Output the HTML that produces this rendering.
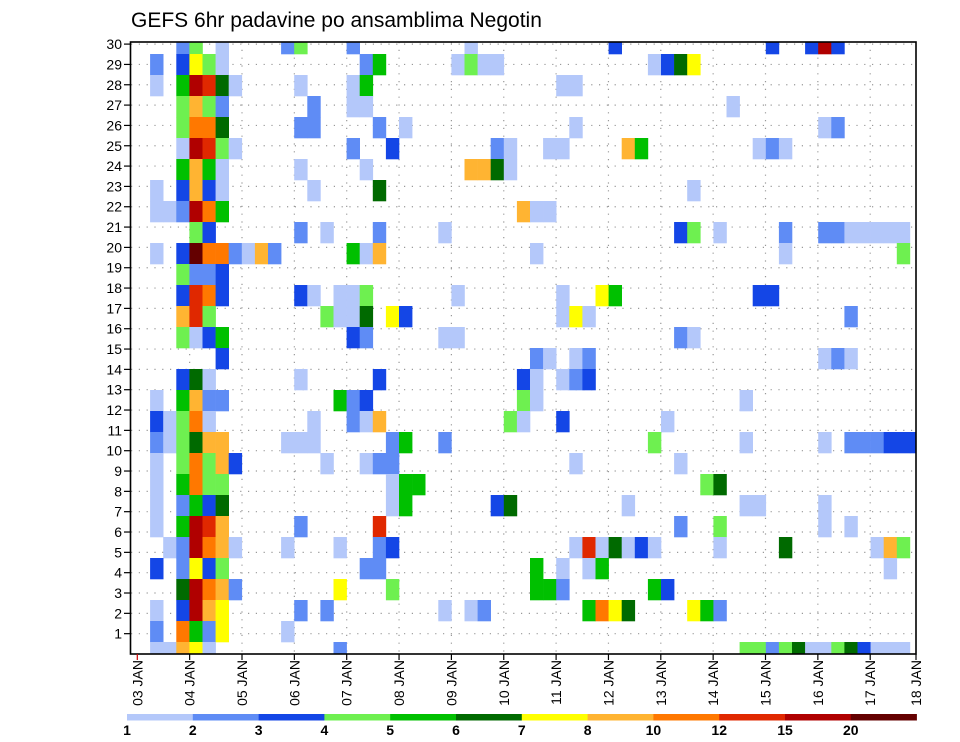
<!DOCTYPE html>
<html><head><meta charset="utf-8">
<style>
html,body{margin:0;padding:0;background:#fff;}
svg{display:block;font-family:"Liberation Sans",sans-serif;}
</style></head>
<body>
<svg id="chart" width="960" height="742" viewBox="0 0 960 742" xmlns="http://www.w3.org/2000/svg">
  <text x="131" y="27" font-size="21" fill="#000">GEFS 6hr padavine po ansamblima Negotin</text>
  <defs><clipPath id="plotclip"><rect x="130.5" y="42" width="785.5" height="612"/></clipPath></defs>
  <g id="grid"></g>
  <g id="cells" clip-path="url(#plotclip)"></g>
  <rect x="130.5" y="42" width="785.5" height="612" fill="none" stroke="#000" stroke-width="1.6"/>
  <g id="yaxis"></g>
  <g id="xaxis"></g>
  <g id="legend"></g>
</svg>
<script>
// ---- data ----
// one string per member row (top row = member 29 ... bottom = member 0); "col:class"
const memberRows = [
"3:2,4:4,6:1,11:2,12:4,16:2,25:1,36:3,48:3,51:3,52:b,53:3",
"1:2,3:3,4:7,5:4,6:1,17:2,18:5,24:1,25:4,26:1,27:1,39:1,40:3,41:6,42:7",
"1:1,3:5,4:b,5:a,6:6,7:1,12:1,16:1,17:5,32:1,33:1",
"3:4,4:8,5:4,6:2,13:2,16:1,17:1,45:1",
"3:4,4:9,5:9,6:6,12:2,13:2,18:2,20:1,33:1,52:1,53:2",
"3:1,4:b,5:a,6:4,7:1,16:2,19:3,27:2,28:1,31:1,32:1,37:8,38:5,47:1,48:2,49:1",
"3:5,4:8,5:5,6:1,12:1,17:1,25:8,26:8,27:6,28:1",
"1:1,3:3,4:8,5:3,6:1,13:1,18:6,42:1",
"1:1,2:1,3:2,4:b,5:9,6:5,29:8,30:1,31:1",
"4:4,5:3,12:2,14:1,18:2,23:1,41:3,42:4,44:1,49:2,52:2,53:2,54:1,55:1,56:1,57:1,58:1",
"1:1,3:3,4:c,5:9,6:9,7:2,8:1,9:8,10:2,16:5,17:1,18:8,30:1,49:1,58:4",
"3:4,4:2,5:2,6:3",
"3:3,4:a,5:9,6:3,12:3,13:1,15:1,16:1,17:4,24:1,32:1,35:7,36:5,47:3,48:3",
"3:8,4:a,5:4,14:4,15:1,16:1,17:6,19:7,20:3,32:1,33:7,34:1,54:2",
"3:4,4:1,5:3,6:5,16:3,17:2,23:1,24:1,41:2,42:1",
"6:3,30:2,31:1,33:1,34:2,52:1,53:2,54:1",
"3:3,4:6,5:1,12:1,18:3,29:3,30:1,32:1,33:2,34:3",
"1:1,3:5,4:8,5:2,6:2,15:5,16:2,17:3,29:4,30:1,46:1",
"1:3,2:1,3:4,4:9,5:1,13:1,16:2,17:1,18:8,28:4,29:1,32:3,40:1",
"1:2,2:1,3:4,4:6,5:8,6:8,11:1,12:1,13:1,19:2,20:5,23:2,39:4,46:1,52:1,54:2,55:2,56:2,57:3,58:3,59:3",
"1:1,3:4,4:9,5:4,6:8,7:3,14:1,17:1,18:2,19:2,33:1,41:1",
"1:1,3:5,4:9,5:4,6:4,19:1,20:5,21:5,43:4,44:6",
"1:1,3:2,4:5,5:3,6:6,19:1,20:5,27:3,28:6,37:1,46:1,47:1,52:1",
"1:1,3:5,4:b,5:a,6:8,12:2,18:a,41:2,44:4,52:1,54:1",
"2:1,3:2,4:b,5:9,6:8,7:1,11:1,15:1,18:2,19:3,33:1,34:a,35:1,36:6,37:1,38:3,39:1,44:1,49:6,56:1,57:8,58:4",
"1:3,3:2,4:7,5:3,6:4,17:2,18:2,30:5,32:1,34:1,35:5,57:1",
"3:6,4:b,5:9,6:8,7:2,15:7,19:4,30:5,31:5,32:2,39:5,40:3",
"1:1,3:3,4:b,5:8,6:7,12:2,14:2,23:1,25:1,26:2,34:5,35:9,36:7,37:6,42:7,43:5,44:2",
"1:2,3:9,4:5,5:2,6:7,11:1",
"1:1,2:1,3:8,4:7,5:1,15:2,46:4,47:4,48:2,49:4,50:6,51:1,52:1,53:4,54:6,55:3,56:1,57:1,58:1"
];
const legendLevels = ["1","2","3","4","5","6","7","8","10","12","15","20"];
const classColors = ["#b4c8fa","#5f8cf5","#1446e6","#6ef050","#00c000","#006a00","#ffff00","#ffb432","#ff7800","#e02800","#b00000","#640000"];
const dayLabels = ["03 JAN","04 JAN","05 JAN","06 JAN","07 JAN","08 JAN","09 JAN","10 JAN","11 JAN","12 JAN","13 JAN","14 JAN","15 JAN","16 JAN","17 JAN","18 JAN"];
const yTickLabels = [1,2,3,4,5,6,7,8,9,10,11,12,13,14,15,16,17,18,19,20,21,22,23,24,25,26,27,28,29,30];

// ---- scales ----
const NS="http://www.w3.org/2000/svg";
const colW = 13.1, rowH = 21;
function xCell(c){ return 137 + colW*c; }
function yCell(member){ return 642 - rowH*member; }
function xDay(d){ return 137.3 + 52.35*d; }
function yTick(v){ return 654 - 20.33*v; }
function classIndex(ch){ return parseInt(ch,16)-1; }
function mk(tag, attrs, parent){ const e=document.createElementNS(NS,tag); for(const k in attrs) e.setAttribute(k,attrs[k]); parent.appendChild(e); return e; }

const grid=document.getElementById('grid');
for(let d=1; d<dayLabels.length; d++){
  const x=xDay(d); if(x>915) continue;
  const l=mk('line',{x1:x,x2:x,y1:42,y2:654,stroke:'#999','stroke-width':1.2,'stroke-dasharray':'1.2 6.6'},grid);
  
  
}
yTickLabels.forEach(v=>{
  const y=yTick(v);
  const l=mk('line',{x1:131,x2:916,y1:y,y2:y,stroke:'#999','stroke-width':1.2,'stroke-dasharray':'1.2 6.6'},grid);
  
  
});

const cells=document.getElementById('cells');
memberRows.forEach((row, b)=>{
  const member = memberRows.length-1-b;
  row.split(',').forEach(p=>{
    const [c,k]=p.split(':');
    const r=mk('rect',{x:xCell(+c),y:yCell(member),width:colW+0.3,height:rowH+0.3,fill:classColors[classIndex(k)]},cells);
    
    
  });
});

const ya=document.getElementById('yaxis');
yTickLabels.forEach(v=>{
  const y=yTick(v);
  const t=mk('line',{x1:124,x2:131,y1:y,y2:y,stroke:'#000','stroke-width':1.2},ya);
  
  
  const lb=mk('text',{x:122,y:y+5,'font-size':14,'text-anchor':'end',fill:'#000'},ya);
  lb.textContent=v;
  
  
});

const xa=document.getElementById('xaxis');
dayLabels.forEach((s,d)=>{
  let x=xDay(d); if(x>916) x=916;
  const t=mk('line',{x1:x,x2:x,y1:654,y2:660,stroke:d===0?'#c00':'#000','stroke-width':1.2},xa);
  
  
  const lb=mk('text',{x:0,y:0,'font-size':14,'text-anchor':'end',fill:'#000',transform:'translate('+(x+5)+',660) rotate(-90)'},xa);
  lb.textContent=s;
  
  
});

const lg=document.getElementById('legend');
const segW=65.8;
legendLevels.forEach((s,i)=>{
  const x=127+segW*i;
  const r=mk('rect',{x:x,y:714,width:segW+0.3,height:6.5,fill:classColors[i]},lg);
  
  
  const t=mk('text',{x:x,y:735,'font-size':14,'font-weight':'bold','text-anchor':'middle',fill:'#000'},lg);
  t.textContent=s;
  
  
});
</script>
</body></html>
